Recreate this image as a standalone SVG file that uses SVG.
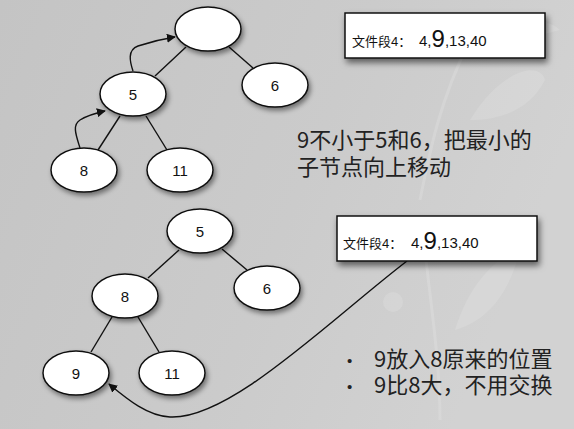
<svg xmlns="http://www.w3.org/2000/svg" width="574" height="429" viewBox="0 0 574 429">
<style>
.node ellipse{fill:#fff;stroke:#111;stroke-width:1.5;filter:url(#sh)}
.node text{font-family:"Liberation Sans",Arial,sans-serif;font-size:15px;fill:#111;text-anchor:middle;dominant-baseline:central}
.edge{stroke:#111;stroke-width:1.4;fill:none}
.arr{stroke:#111;stroke-width:1.4;fill:none;marker-end:url(#ah)}
.box rect{fill:#fff;stroke:#111;stroke-width:1.5;filter:url(#sh2)}
.bt{font-family:"Liberation Sans","Noto Sans CJK SC",sans-serif;font-size:13px;fill:#111}
.num{font-size:15px}
.big{font-size:24px}
.cap{font-family:"Noto Sans CJK SC",sans-serif;font-size:22px;fill:#222}
.bul{font-family:"Liberation Sans",sans-serif;font-size:15px;fill:#222}
.leaf{fill:#fff;opacity:0.13}
</style>
<defs>
<linearGradient id="bg" x1="0" y1="0" x2="1" y2="0.3">
<stop offset="0" stop-color="#c4c4c4"/>
<stop offset="0.6" stop-color="#cbcbcb"/>
<stop offset="1" stop-color="#d2d2d2"/>
</linearGradient>
<filter id="sh" x="-30%" y="-30%" width="170%" height="170%">
<feDropShadow dx="2" dy="3" stdDeviation="2.5" flood-color="#000" flood-opacity="0.45"/>
</filter>
<filter id="sh2" x="-10%" y="-30%" width="125%" height="170%">
<feDropShadow dx="2" dy="4" stdDeviation="3" flood-color="#000" flood-opacity="0.55"/>
</filter>
<marker id="ah" viewBox="0 0 10 10" refX="9" refY="5" markerWidth="9" markerHeight="9" orient="auto" markerUnits="userSpaceOnUse">
<path d="M0,0 L10,5 L0,10 z" fill="#111"/>
</marker>
</defs>
<rect width="574" height="429" fill="url(#bg)"/>
<g id="decor">
<path class="leaf" d="M430,60 C470,20 540,10 560,30 C520,40 470,60 430,60 z"/>
<path class="leaf" d="M470,120 C500,70 540,60 545,80 C530,110 500,120 470,120 z"/>
<path class="leaf" d="M455,330 C470,280 500,255 520,250 C510,290 490,320 455,330 z"/>
<path d="M420,200 C430,150 440,100 470,40" stroke="#fff" stroke-opacity="0.15" stroke-width="3" fill="none"/>
<path d="M440,420 C440,360 430,300 425,250" stroke="#fff" stroke-opacity="0.15" stroke-width="3" fill="none"/>
<circle cx="393" cy="302" r="10" class="leaf"/>
</g>
<g id="connectors">
<line class="edge" x1="186" y1="47" x2="155" y2="76"/>
<line class="edge" x1="229" y1="47" x2="253" y2="68"/>
<line class="edge" x1="120" y1="116" x2="98" y2="150"/>
<line class="edge" x1="146" y1="116" x2="167" y2="150"/>
<path class="arr" d="M80,148 C76,135 72,125 80,120 C88,115 96,113 105,111"/>
<path class="arr" d="M133,71 C130,62 127,50 138,46 C150,42 162,39 175,37"/>
<line class="edge" x1="179" y1="250" x2="148" y2="278"/>
<line class="edge" x1="222" y1="249" x2="247" y2="270"/>
<line class="edge" x1="112" y1="317" x2="91" y2="352"/>
<line class="edge" x1="138" y1="317" x2="159" y2="352"/>
<path class="arr" d="M407,261 C330,320 230,420 170,417 C148,416 128,400 109,384"/>
</g>
<g id="n_root" class="node"><ellipse cx="208" cy="29" rx="33" ry="22"/></g>
<g id="n_5a" class="node"><ellipse cx="133" cy="94" rx="33" ry="22"/><text x="133" y="94">5</text></g>
<g id="n_6a" class="node"><ellipse cx="275" cy="85" rx="33" ry="22"/><text x="275" y="85">6</text></g>
<g id="n_8a" class="node"><ellipse cx="84" cy="170" rx="33" ry="22"/><text x="84" y="170">8</text></g>
<g id="n_11a" class="node"><ellipse cx="180" cy="170" rx="33" ry="22"/><text x="180" y="170">11</text></g>
<g id="n_5b" class="node"><ellipse cx="200" cy="231" rx="33" ry="22"/><text x="200" y="231">5</text></g>
<g id="n_6b" class="node"><ellipse cx="267" cy="288" rx="33" ry="22"/><text x="267" y="288">6</text></g>
<g id="n_8b" class="node"><ellipse cx="125" cy="296" rx="33" ry="22"/><text x="125" y="296">8</text></g>
<g id="n_9b" class="node"><ellipse cx="76" cy="373" rx="33" ry="22"/><text x="76" y="373">9</text></g>
<g id="n_11b" class="node"><ellipse cx="172" cy="373" rx="33" ry="22"/><text x="172" y="373">11</text></g>
<g id="box1" class="box"><rect x="345" y="13" width="200" height="45"/>
<text class="bt" x="352" y="46">文件段4：<tspan class="num" x="419">4,</tspan><tspan class="big" dy="1">9</tspan><tspan class="num" dy="-1">,13,40</tspan></text></g>
<g id="box2" class="box"><rect x="337" y="216" width="200" height="45"/>
<text class="bt" x="343" y="248">文件段4：<tspan class="num" x="411">4,</tspan><tspan class="big" dy="1">9</tspan><tspan class="num" dy="-1">,13,40</tspan></text></g>
<g id="caption1">
<text class="cap" x="297" y="148">9不小于5和6，把最小的</text>
<text class="cap" x="297" y="175">子节点向上移动</text>
</g>
<g id="caption2">
<text class="bul" x="347" y="366">•</text>
<text class="cap" x="374" y="367">9放入8原来的位置</text>
<text class="bul" x="347" y="392">•</text>
<text class="cap" x="374" y="393">9比8大，不用交换</text>
</g>
</svg>
